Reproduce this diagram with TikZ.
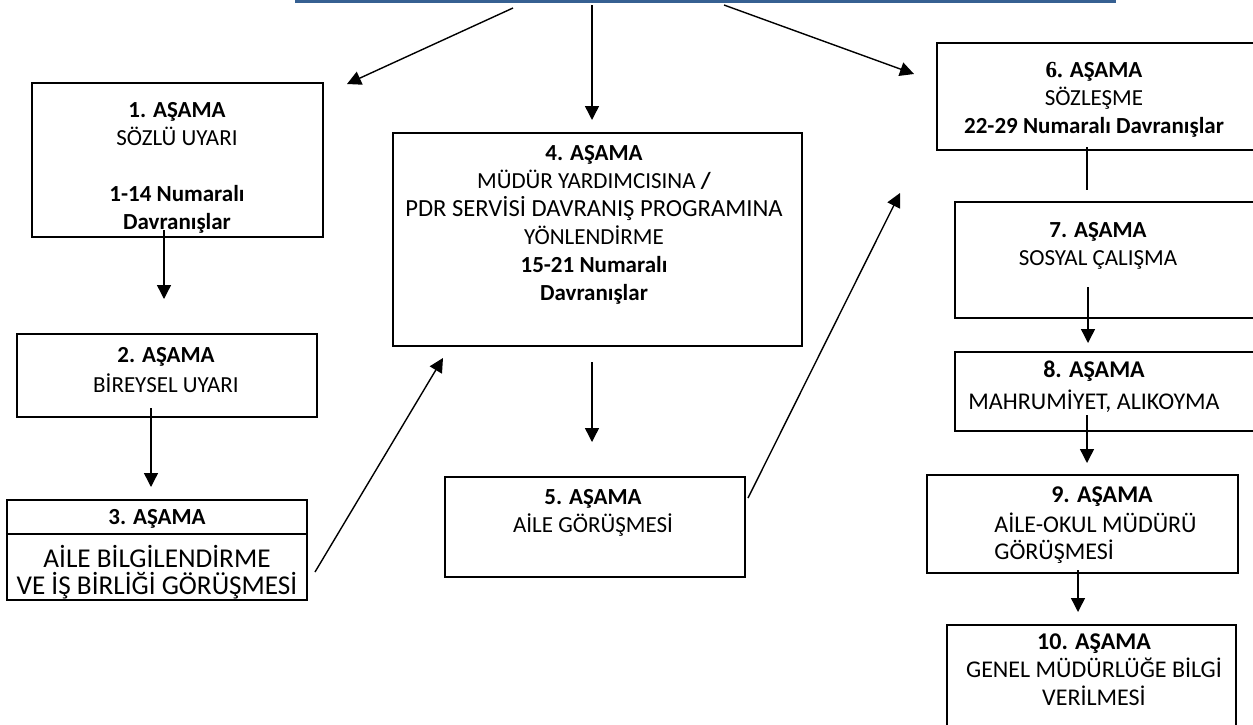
\documentclass[tikz,border=0pt]{standalone}
\usepackage{fontspec}
\setmainfont{Carlito}
\newfontfamily\sixfont{Liberation Serif}
\usetikzlibrary{arrows.meta,fit}
\definecolor{barblue}{RGB}{54,96,146}
\newcommand\boxtext[1]{\begin{tabular}[t]{@{}c@{}}#1\end{tabular}}
\newcommand\boxtextl[1]{\begin{tabular}[t]{@{}l@{}}#1\end{tabular}}
\tikzset{
  stagebox/.style={draw=black, line width=1.1pt, inner sep=0pt},
  arr/.style={line width=0.7pt, -{Triangle[length=7pt,width=7pt]}},
  plainline/.style={line width=0.7pt},
  lbl/.style={anchor=base, inner sep=0pt, font=\fontsize{11.5}{14}\selectfont},
  lblbig/.style={anchor=base, inner sep=0pt, font=\fontsize{13.6}{14}\selectfont},
  lblmid/.style={anchor=base, inner sep=0pt, font=\fontsize{12}{14}\selectfont},
}
\begin{document}
\begin{tikzpicture}[x=0.5pt,y=-0.5pt]
\useasboundingbox (0,0) rectangle (1253,724);
\clip (0,0) rectangle (1253,724);

% top bar
\node[fill=barblue, inner sep=0pt, fit={(295,-3) (1116,3)}] (bar) {};

% boxes
\node[stagebox, fit={(32,83) (323,237)}] (b1) {};
\node[stagebox, fit={(17,334) (317,417)}] (b2) {};
\node[stagebox, fit={(7,500) (307,600)}] (b3) {};
\node[stagebox, fit={(393,133) (802,346)}] (b4) {};
\node[stagebox, fit={(445,477) (745,577)}] (b5) {};
\node[stagebox, fit={(937,43) (1270,150)}] (b6) {};
\node[stagebox, fit={(955,202) (1270,318)}] (b7) {};
\node[stagebox, fit={(955,352) (1270,431)}] (b8) {};
\node[stagebox, fit={(927,475) (1238,573)}] (b9) {};
\node[stagebox, fit={(947,625) (1236,745)}] (b10) {};

% divider in box 3
\coordinate (d3) at (0,534);
\draw[line width=1.1pt] (b3.west |- d3) -- (b3.east |- d3);

% texts
\node[lbl] (t1) at (177,117.5) {\boxtext{\textbf{1. AŞAMA}\\ SÖZLÜ UYARI\\ \\ \textbf{1-14 Numaralı}\\ \textbf{Davranışlar}}};
\node[lbl] (t2) at (166,362.5) {\boxtext{\textbf{2. AŞAMA}\\[1pt] BİREYSEL UYARI}};
\node[lbl] (t3a) at (157,524.5) {\textbf{3. AŞAMA}};
\node[lblbig] (t3b) at (157,567) {AİLE BİLGİLENDİRME};
\node[lblbig] (t3c) at (157,594) {VE İŞ BİRLİĞİ GÖRÜŞMESİ};
\node[lbl] (t4) at (594,160.5) {\boxtext{\textbf{4. AŞAMA}\\ MÜDÜR YARDIMCISINA \textbf{/}\\ {\fontsize{12.3}{14}\selectfont PDR SERVİSİ DAVRANIŞ PROGRAMINA}\\ YÖNLENDİRME\\ \textbf{15-21 Numaralı}\\ \textbf{Davranışlar}}};
\node[lbl] (t5) at (593,504.5) {\boxtext{\textbf{5. AŞAMA}\\ AİLE GÖRÜŞMESİ}};
\node[lbl] (t6) at (1094,77.5) {\boxtext{\textbf{{\sixfont 6.} AŞAMA}\\ SÖZLEŞME\\ \textbf{22-29 Numaralı Davranışlar}}};
\node[lbl] (t7) at (1098,237.5) {\boxtext{\textbf{7. AŞAMA}\\ SOSYAL ÇALIŞMA}};
\node[lblmid] (t8) at (1094,377.5) {\boxtext{\textbf{8. AŞAMA}\\[2pt] MAHRUMİYET, ALIKOYMA}};
\node[lblmid] (t9a) at (1102,502.5) {\textbf{9. AŞAMA}};
\node[lblmid, anchor=base west] (t9b) at (994,532.5) {\boxtextl{AİLE-OKUL MÜDÜRÜ\\[-0.5pt] GÖRÜŞMESİ}};
\node[lblmid] (t10) at (1094,649.5) {\boxtext{\textbf{10. AŞAMA}\\ GENEL MÜDÜRLÜĞE BİLGİ\\ VERİLMESİ}};

% connector end points
\coordinate (sL) at (513,8);
\coordinate (eL) at (347,84);
\coordinate (sM) at (592,5);
\coordinate (eM) at (592,120);
\coordinate (sR) at (724,5);
\coordinate (eR) at (914,74);
\coordinate (s12) at (164,230);
\coordinate (e12) at (164,299);
\coordinate (s23) at (151,408);
\coordinate (e23) at (151,487);
\coordinate (s34) at (315,572);
\coordinate (e34) at (443,358);
\coordinate (s45) at (592,362);
\coordinate (e45) at (592,442);
\coordinate (s56) at (748,498);
\coordinate (e56) at (900,193);
\coordinate (s67) at (1087,147);
\coordinate (e67) at (1087,190);
\coordinate (s78) at (1088,287);
\coordinate (e78) at (1088,343);
\coordinate (s89) at (1087,415);
\coordinate (e89) at (1087,463);
\coordinate (s910) at (1078,570);
\coordinate (e910) at (1078,612);

% connectors
\draw[arr] (sL) -- (eL);
\draw[arr] (sM) -- (eM);
\draw[arr] (sR) -- (eR);
\draw[arr] (s12) -- (e12);
\draw[arr] (s23) -- (e23);
\draw[arr] (s34) -- (e34);
\draw[arr] (s45) -- (e45);
\draw[arr] (s56) -- (e56);
\draw[plainline] (s67) -- (e67);
\draw[arr] (s78) -- (e78);
\draw[arr] (s89) -- (e89);
\draw[arr] (s910) -- (e910);
\end{tikzpicture}
\end{document}
